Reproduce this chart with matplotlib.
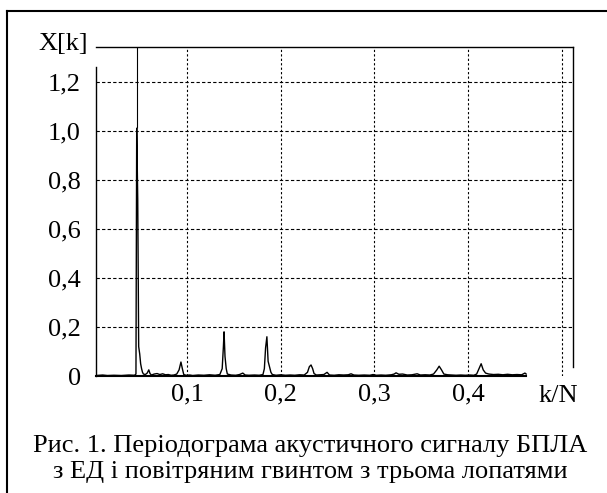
import matplotlib
matplotlib.use("Agg")
import matplotlib.pyplot as plt
from matplotlib.lines import Line2D

# spectre : (k/N, X[k])
k_n = [0.003, 0.010, 0.015, 0.022, 0.030, 0.038, 0.044, 0.0455,
       0.0463, 0.0474, 0.0484, 0.0495, 0.0505, 0.0515, 0.0525, 0.0535,
       0.0555, 0.0575, 0.0592, 0.0605, 0.062, 0.065, 0.068, 0.071, 0.074,
       0.077, 0.080, 0.083, 0.086, 0.089, 0.0915, 0.0935, 0.0950, 0.0965,
       0.099, 0.103, 0.106, 0.112, 0.118, 0.124, 0.130, 0.135, 0.1375,
       0.1388, 0.1395, 0.1405, 0.1418, 0.143, 0.147, 0.152, 0.156, 0.1595,
       0.162, 0.166, 0.172, 0.177, 0.181, 0.1825, 0.1838, 0.1852, 0.1865,
       0.1878, 0.1895, 0.191, 0.195, 0.200, 0.205, 0.210, 0.215, 0.220,
       0.225, 0.2285, 0.2305, 0.2323, 0.2340, 0.2355, 0.238, 0.242, 0.246,
       0.2494, 0.252, 0.257, 0.262, 0.267, 0.272, 0.275, 0.278, 0.283,
       0.289, 0.295, 0.2985, 0.302, 0.307, 0.312, 0.318, 0.321, 0.323,
       0.326, 0.330, 0.335, 0.340, 0.3455, 0.349, 0.354, 0.359, 0.363,
       0.3665, 0.369, 0.3715, 0.374, 0.378, 0.382, 0.387, 0.392, 0.397,
       0.402, 0.406, 0.409, 0.4115, 0.4138, 0.416, 0.4185, 0.422, 0.427,
       0.432, 0.437, 0.442, 0.447, 0.452, 0.457, 0.4605, 0.4618]
x_k = [0.002, 0.004, 0.002, 0.003, 0.002, 0.004, 0.003, 0.008,
       1.01, 0.72, 0.12, 0.09, 0.05, 0.03, 0.015, 0.008,
       0.006, 0.012, 0.025, 0.010, 0.004, 0.008, 0.010, 0.006, 0.009,
       0.005, 0.006, 0.003, 0.004, 0.008, 0.025, 0.057, 0.030, 0.006,
       0.003, 0.004, 0.002, 0.004, 0.003, 0.005, 0.003, 0.006, 0.030,
       0.12, 0.18, 0.08, 0.03, 0.008, 0.004, 0.003, 0.006, 0.012,
       0.004, 0.003, 0.004, 0.003, 0.006, 0.030, 0.115, 0.16, 0.06,
       0.04, 0.015, 0.006, 0.003, 0.005, 0.003, 0.004, 0.003, 0.005,
       0.004, 0.015, 0.038, 0.045, 0.030, 0.010, 0.004, 0.005, 0.006,
       0.015, 0.004, 0.003, 0.005, 0.004, 0.005, 0.009, 0.004, 0.003,
       0.004, 0.003, 0.006, 0.003, 0.004, 0.003, 0.005, 0.008, 0.013,
       0.007, 0.008, 0.004, 0.005, 0.009, 0.004, 0.005, 0.004, 0.008,
       0.025, 0.040, 0.025, 0.008, 0.005, 0.004, 0.003, 0.004, 0.003,
       0.004, 0.003, 0.008, 0.030, 0.050, 0.025, 0.012, 0.008, 0.006,
       0.007, 0.005, 0.007, 0.005, 0.006, 0.005, 0.012, 0.008]

y_ticks = [0, 0.2, 0.4, 0.6, 0.8, 1.0, 1.2]
y_labels = ["0", "0,2", "0,4", "0,6", "0,8", "1,0", "1,2"]
x_ticks = [0.1, 0.2, 0.3, 0.4]
x_labels = ["0,1", "0,2", "0,3", "0,4"]
x_grid = [0.1, 0.2, 0.3, 0.4, 0.5]

caption = ("Рис. 1. Періодограма акустичного сигналу БПЛА\n"
           "з ЕД і повітряним гвинтом з трьома лопатями")

plt.rcParams["font.family"] = ["Liberation Serif", "DejaVu Serif"]

fig = plt.figure(figsize=(6.07, 4.93), dpi=100)
ax = fig.add_axes([0.1582, 0.2373, 0.7858, 0.6674])
ax.set_xlim(0.0029, 0.5118)
ax.set_ylim(0, 1.341)

# grille pointillée
for g in y_ticks[1:]:
    ax.axhline(g, color="black", lw=0.8, ls=(0, (3, 2)), zorder=1)
for g in x_grid:
    ax.axvline(g, color="black", lw=0.8, ls=(0, (2, 2)), zorder=1)

ax.plot(k_n, x_k, color="black", lw=1.0, zorder=3)

# trait vertical du pic principal
i_max = x_k.index(max(x_k))
ax.vlines(k_n[i_max], x_k[i_max], 1.341, color="black", lw=0.8, zorder=3)

ax.spines["left"].set_bounds(0, 1.26)
ax.spines["right"].set_bounds(0.035, 1.341)
ax.spines["bottom"].set_bounds(0.0029, k_n[-1])
ax.spines["bottom"].set_linewidth(1.5)
for s in ["left", "right", "top"]:
    ax.spines[s].set_linewidth(1.0)

ax.set_yticks(y_ticks)
ax.set_yticklabels(y_labels, fontsize=19)
ax.set_xticks(x_ticks)
ax.set_xticklabels(x_labels, fontsize=19)
ax.tick_params(axis="y", length=0, pad=11)
ax.tick_params(axis="x", length=0, pad=5)

fig.text(63 / 607, 1 - 44 / 493, "X[k]", fontsize=19, ha="center", va="center")
fig.text(558 / 607, 1 - 396 / 493, "k/N", fontsize=19, ha="center", va="center")
fig.text(310 / 607, 1 - 459 / 493, caption, fontsize=19, ha="center",
         va="center", linespacing=1.2)

# cadre extérieur
fig.add_artist(Line2D([7 / 607, 7 / 607], [0, 1 - 11 / 493], color="black", lw=1.5))
fig.add_artist(Line2D([7 / 607, 1], [1 - 11 / 493, 1 - 11 / 493], color="black", lw=1.5))

fig.savefig("out.png", dpi=100)
